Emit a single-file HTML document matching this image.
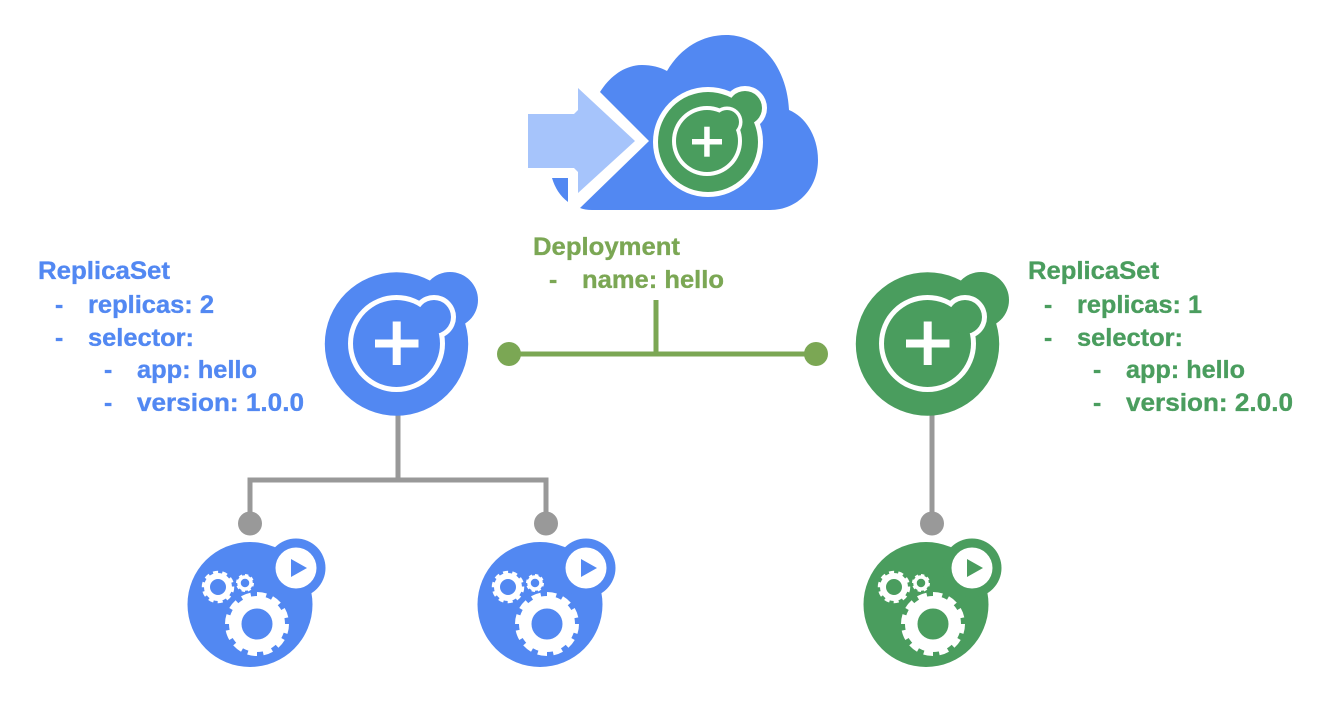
<!DOCTYPE html>
<html><head><meta charset="utf-8">
<style>
html,body{margin:0;padding:0;background:#fff;width:1344px;height:720px;overflow:hidden}
svg{display:block}
text{font-family:"Liberation Sans",sans-serif;font-weight:bold;font-size:25px;stroke-width:.35px;paint-order:stroke}
</style></head>
<body>
<svg width="1344" height="720" viewBox="0 0 1344 720" xmlns="http://www.w3.org/2000/svg">
<defs>
<g id="rs">
  <circle cx="396.500" cy="344" r="71.700" fill="currentColor"/>
  <circle cx="450" cy="300" r="28" fill="currentColor"/>
  <circle cx="396.500" cy="343.500" r="48.500" fill="#fff"/>
  <circle cx="434" cy="317" r="22" fill="#fff"/>
  <circle cx="396.500" cy="343.500" r="43.500" fill="currentColor"/>
  <circle cx="434" cy="317" r="17" fill="currentColor"/>
  <rect x="375" y="339.500" width="43.500" height="8" fill="#fff"/>
  <rect x="392.700" y="321.500" width="8" height="43.500" fill="#fff"/>
</g>
<g id="pod">
  <circle cx="250" cy="604.500" r="62.500" fill="currentColor"/>
  <circle cx="296" cy="568" r="29.500" fill="currentColor"/>
  <circle cx="296" cy="568" r="20.500" fill="#fff"/>
  <polygon points="291,559 291,577 307,568" fill="currentColor"/>
  <circle cx="257" cy="624" r="21.750" fill="none" stroke="#fff" stroke-width="12.500"/>
  <circle cx="257" cy="624" r="29.500" fill="none" stroke="#fff" stroke-width="5" pathLength="24" stroke-dasharray="1.200 .8"/>
  <circle cx="218" cy="587" r="11" fill="none" stroke="#fff" stroke-width="6"/>
  <circle cx="218" cy="587" r="14.500" fill="none" stroke="#fff" stroke-width="3.500" pathLength="20" stroke-dasharray="1.100 .9"/>
  <circle cx="245" cy="583" r="6" fill="none" stroke="#fff" stroke-width="3.500"/>
  <circle cx="245" cy="583" r="8" fill="none" stroke="#fff" stroke-width="2" pathLength="16" stroke-dasharray="1.100 .9"/>
</g>
</defs>

<!-- Cloud -->
<path d="M600 92 C610 76 625 65 642 65 C651 65 660 67 667 71 C681 47 703 35 726 35 C762 35 787 68 789 110 C806 117 818 137 818 160 C818 188 798 210 770 210 L592 210 Q585 210 580 208 L649 141 Z" fill="#5288f2"/>
<path d="M552 178 L568 178 L568 202 C560 196 555 188 552 178 Z" fill="#5288f2"/>
<polygon points="528,114 574,114 578,110 578,88 635,141 578,193 578,172 574,168 528,168" fill="#a6c4fb"/>

<circle cx="708" cy="142" r="55" fill="#fff"/>
<circle cx="745" cy="108" r="22" fill="#fff"/>
<circle cx="708" cy="142" r="50" fill="#4a9d5e"/>
<circle cx="745" cy="108" r="17" fill="#4a9d5e"/>
<circle cx="707" cy="141" r="35" fill="#fff"/>
<circle cx="727" cy="122" r="15.500" fill="#fff"/>
<circle cx="707" cy="141" r="31" fill="#4a9d5e"/>
<circle cx="727" cy="122" r="12" fill="#4a9d5e"/>
<rect x="692" y="139" width="30" height="5.500" fill="#fff"/>
<rect x="704.200" y="126.700" width="5.500" height="30" fill="#fff"/>

<!-- Connectors -->
<g stroke="#999" stroke-width="5" fill="none">
  <path d="M398 412 V480"/>
  <path d="M250 520 V480 H546 V520"/>
  <path d="M932 412 V520"/>
</g>
<g fill="#999">
  <circle cx="250" cy="523.500" r="12"/>
  <circle cx="546" cy="523.500" r="12"/>
  <circle cx="932" cy="523.500" r="12"/>
</g>
<g stroke="#7ba754" stroke-width="5" fill="none">
  <path d="M509 354 H816"/>
  <path d="M656 300 V354"/>
</g>
<g fill="#7ba754">
  <circle cx="509" cy="354" r="12"/>
  <circle cx="816" cy="354" r="12"/>
</g>

<!-- Nodes -->
<use href="#rs" style="color:#5288f2"/>
<use href="#rs" x="531" style="color:#4a9d5e"/>
<use href="#pod" style="color:#5288f2"/>
<use href="#pod" x="290" style="color:#5288f2"/>
<use href="#pod" x="676" style="color:#4a9d5e"/>

<!-- Labels -->
<g fill="#5288f2" stroke="#5288f2">
  <text x="38" y="279" textLength="132" lengthAdjust="spacingAndGlyphs">ReplicaSet</text>
  <text x="55" y="313">-</text>
  <text x="88" y="313" textLength="126" lengthAdjust="spacingAndGlyphs">replicas: 2</text>
  <text x="55" y="346">-</text>
  <text x="88" y="346" textLength="106" lengthAdjust="spacingAndGlyphs">selector:</text>
  <text x="104" y="378">-</text>
  <text x="137" y="378" textLength="120" lengthAdjust="spacingAndGlyphs">app: hello</text>
  <text x="104" y="411">-</text>
  <text x="137" y="411" textLength="167" lengthAdjust="spacingAndGlyphs">version: 1.0.0</text>
</g>
<g fill="#4a9d5e" stroke="#4a9d5e">
  <text x="1028" y="279" textLength="131" lengthAdjust="spacingAndGlyphs">ReplicaSet</text>
  <text x="1044" y="313">-</text>
  <text x="1077" y="313" textLength="125" lengthAdjust="spacingAndGlyphs">replicas: 1</text>
  <text x="1044" y="346">-</text>
  <text x="1077" y="346" textLength="106" lengthAdjust="spacingAndGlyphs">selector:</text>
  <text x="1093" y="378">-</text>
  <text x="1126" y="378" textLength="119" lengthAdjust="spacingAndGlyphs">app: hello</text>
  <text x="1093" y="411">-</text>
  <text x="1126" y="411" textLength="167" lengthAdjust="spacingAndGlyphs">version: 2.0.0</text>
</g>
<g fill="#7ba754" stroke="#7ba754">
  <text x="533" y="255" textLength="147" lengthAdjust="spacingAndGlyphs">Deployment</text>
  <text x="549" y="288">-</text>
  <text x="582" y="288" textLength="142" lengthAdjust="spacingAndGlyphs">name: hello</text>
</g>
</svg>
</body></html>
